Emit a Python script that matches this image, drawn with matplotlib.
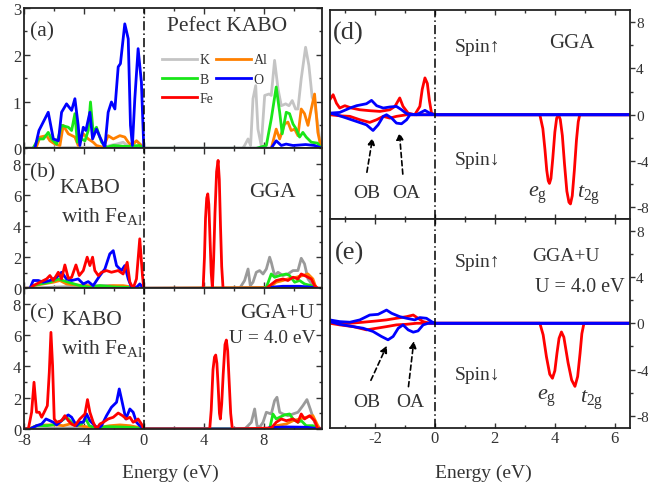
import numpy as np
import matplotlib
matplotlib.use('Agg')
import matplotlib.pyplot as plt
from matplotlib.ticker import MultipleLocator

matplotlib.rcParams.update({'font.family': 'Liberation Serif', 'font.size': 12,
                            'mathtext.fontset': 'custom', 'mathtext.rm': 'Liberation Serif',
                            'mathtext.it': 'Liberation Serif:italic',
                            'axes.unicode_minus': False, 'text.color': '#333333',
                            'xtick.color': '#333333', 'ytick.color': '#333333'})

# ---------------- panel (a): pefect KABO ----------------
a_O_e = [-8, -7.27, -7.0, -6.38, -6.04, -5.7, -5.49, -5.16, -4.82, -4.6, -4.38, -4.27, -4.04, -3.87, -3.6, -3.42,
         -3.16, -2.93, -2.6, -2.38, -2.16, -1.93, -1.71, -1.56, -1.27, -1.04, -0.89, -0.76, -0.6, -0.38, -0.16, 0,
         8.5, 8.84, 9.18, 9.5, 9.96, 10.4, 10.8, 11.4, 11.9]
a_O_d = [0, 0, 0.38, 0.77, 0.2, 0.16, 0.77, 0.95, 0.81, 1.06, 0.49, 0.06, 0.45, 0.38, 0.77, 0.2,
         0.41, 0.24, 0.02, 0.77, 0.99, 0.84, 1.74, 1.81, 2.66, 2.34, 0.49, 0.06, 1.06, 2.13, 1.41, 0,
         0, 0.16, 0.06, 0.09, 0.06, 0.07, 0.08, 0.06, 0]
a_B_e = [-8, -7.4, -7.04, -6.7, -6.38, -6.16, -5.82, -5.49, -5.04, -4.82, -4.6, -4.44, -4.16, -3.93, -3.71, -3.56,
         -3.38, -3.16, -2.82, -2.49, -2.04, -1.2, -0.3, 0,
         7.51, 8.18, 8.51, 8.84, 9.07, 9.24, 9.51, 9.73, 9.96, 10.18, 10.4, 10.62, 10.84, 11.18, 11.6, 11.84, 11.9]
a_B_d = [0, 0, 0.2, 0.2, 0.34, 0.2, 0.09, 0.49, 0.45, 0.38, 0.74, 0.13, 0.2, 0.16, 0.38, 0.99,
         0.34, 0.45, 0.13, 0.02, 0.06, 0.04, 0.06, 0,
         0, 0.06, 0.63, 1.31, 0.77, 0.31, 0.77, 0.74, 0.52, 0.41, 0.24, 0.34, 0.24, 0.13, 0.11, 0, 0]
a_Al_e = [-8, -7.2, -6.93, -6.49, -6.27, -5.93, -5.6, -5.38, -5.04, -4.6, -4.38, -4.04, -3.71, -3.38, -3.16, -2.7,
          -2.38, -2.04, -1.6, -1.27, -1.04, -0.82, -0.49, -0.16, 0,
          8.51, 8.84, 9.07, 9.4, 9.62, 9.84, 10.07, 10.29, 10.51, 10.73, 10.96, 11.18, 11.4, 11.62, 11.84, 11.9]
a_Al_d = [0, 0, 0.24, 0.27, 0.16, 0.09, 0.06, 0.49, 0.31, 0.24, 0.06, 0.31, 0.2, 0.13, 0.06, 0.02,
          0.27, 0.2, 0.27, 0.24, 0.13, 0.06, 0.16, 0.06, 0,
          0, 0.41, 0.2, 0.52, 0.56, 0.38, 0.41, 0.27, 0.84, 0.74, 0.49, 0.84, 1.16, 0.34, 0, 0]
a_K_e = [-8, -7.3, -5.0, -2.6, -2.27, -1.82, -1.38, -0.93, -0.49, -0.16, 0,
         6.6, 6.73, 6.96, 7.13, 7.29, 7.47, 7.62, 7.84, 8.07, 8.36, 8.51, 8.73, 8.96, 9.18, 9.47, 9.69, 9.91,
         10.13, 10.29, 10.51, 10.8, 11.02, 11.24, 11.4, 11.62, 11.84, 11.9]
a_K_d = [0, 0, 0.02, 0.02, 0.06, 0.09, 0.13, 0.02, 0.16, 0.06, 0,
         0, 0.06, 0.2, 0.06, 1.06, 1.34, 0.41, 0.06, 1.13, 1.16, 1.13, 1.88, 1.27, 0.91, 0.95, 0.91, 1.02,
         0.84, 0.84, 1.49, 2.16, 1.77, 1.09, 0.98, 0.49, 0, 0]

# ---------------- panel (b): KABO with Fe_Al, GGA ----------------
b_Fe_e = [-8, -7.55, -7.38, -6.93, -6.49, -6.27, -6.04, -5.71, -5.49, -5.27, -5.04, -4.82, -4.53, -4.31, -4.04,
          -3.78, -3.6, -3.42, -3.27, -3.04, -2.82, -2.49, -2.16, -1.71, -1.38, -1.11, -0.93, -0.71, -0.49, -0.27,
          -0.09, 0,
          3.96, 4.05, 4.12, 4.2, 4.27, 4.34, 4.42, 4.5, 4.58, 4.66, 4.75, 4.86, 4.96, 5.04, 5.12, 5.2, 5.29,
          8.2, 8.4, 8.84, 9.29, 9.62, 9.96, 10.29, 10.51, 10.73, 11.18, 11.4, 11.62, 11.9]
b_Fe_d = [0, 0, 0.17, 0.39, 0.6, 0.82, 0.5, 1.03, 0.6, 1.5, 0.64, 0.7, 1.5, 0.82, 1.14,
          2.0, 1.46, 2.0, 1.14, 0.82, 1.03, 1.14, 1.03, 1.14, 0.92, 1.67, 0.39, 0, 0.6, 3.18,
          0.82, 0,
          0, 2.0, 4.5, 5.8, 6.07, 5.4, 3.2, 1.0, 0, 1.8, 4.8, 7.5, 8.22, 7.0, 4.0, 1.4, 0,
          0, 0.17, 0.5, 0.6, 0.5, 0.71, 0.6, 0.92, 0.82, 0.6, 0.17, 0, 0]
b_O_e = [-8, -7.6, -7.38, -7.04, -6.71, -6.27, -5.82, -5.49, -5.16, -4.82, -4.38, -4.04, -3.71, -3.38, -2.93,
         -2.6, -2.27, -2.04, -1.82, -1.49, -1.27, -1.04, -0.82, -0.49, -0.27, -0.04, 0,
         8.2, 8.4, 9.29, 10.4, 11.29, 11.6, 11.9]
b_O_d = [0, 0, 0.5, 0.5, 0.39, 0.5, 0.71, 1.03, 0.6, 0.5, 0.6, 0.28, 0.43, 0.17, 0.82,
         1.24, 2.21, 2.42, 1.46, 1.14, 1.46, 0.6, 0.06, 0.06, 0.28, 0.02, 0,
         0, 0.06, 0.13, 0.13, 0.06, 0, 0]
b_B_e = [-8, -7.5, -7.38, -6.93, -6.27, -5.71, -5.38, -5.04, -4.27, -3.6, -2.93, -2.04, -0.71, 0,
         7.96, 8.18, 8.51, 8.73, 9.07, 9.51, 9.73, 10.07, 10.4, 10.73, 11.18, 11.51, 11.9]
b_B_d = [0, 0, 0.17, 0.28, 0.39, 0.6, 0.5, 0.39, 0.17, 0.06, 0.17, 0.09, 0.04, 0,
         0, 0.06, 0.92, 0.71, 0.82, 0.92, 0.82, 0.39, 0.5, 0.28, 0.17, 0, 0]
b_Al_e = [-8, -7.5, -7.38, -6.71, -6.04, -5.6, -5.16, -4.49, -3.82, -2.93, -2.04, -1.38, -0.49, 0,
          8.4, 8.84, 9.29, 9.73, 10.18, 10.62, 10.96, 11.29, 11.51, 11.9]
b_Al_d = [0, 0, 0.17, 0.28, 0.39, 0.5, 0.28, 0.21, 0.17, 0.09, 0.17, 0.17, 0.04, 0,
          0.06, 0.39, 0.5, 0.64, 0.71, 0.82, 0.92, 0.6, 0, 0]
b_K_e = [-8, -3.0, -2.27, -1.5, 0,
         6.4, 6.73, 6.96, 7.11, 7.29, 7.51, 7.73, 7.96, 8.18, 8.4, 8.51, 8.73, 8.96, 9.29, 9.62, 9.96, 10.29,
         10.51, 10.73, 10.96, 11.29, 11.51, 11.9]
b_K_d = [0, 0.17, 0.17, 0.09, 0,
         0, 0.5, 1.24, 0.17, 0.39, 1.03, 1.14, 0.92, 1.24, 2.0, 1.67, 0.82, 1.03, 0.82, 0.92, 1.14, 1.14,
         1.93, 1.57, 0.6, 0.17, 0, 0]

# ---------------- panel (c): KABO with Fe_Al, GGA+U ----------------
c_Fe_e = [-8, -7.71, -7.49, -7.33, -7.16, -6.98, -6.82, -6.6, -6.44, -6.31, -6.2, -6.09, -5.98, -5.82, -5.49,
          -5.27, -5.04, -4.82, -4.6, -4.27, -3.93, -3.76, -3.6, -3.38, -3.16, -2.93, -2.71, -2.38, -2.04,
          -1.71, -1.42, -1.16, -0.93, -0.71, -0.53, -0.38, -0.16, 0,
          4.4, 4.5, 4.62, 4.72, 4.8, 4.88, 4.96, 5.05, 5.11, 5.2, 5.3, 5.42, 5.51, 5.6, 5.7, 5.8, 5.91,
          8.51, 8.84, 9.18, 9.51, 9.96, 10.29, 10.51, 10.73, 11.07, 11.4, 11.62, 11.9]
c_Fe_d = [0, 0, 1.07, 2.99, 1.07, 1.07, 0.75, 1.17, 1.49, 3.62, 6.18, 4.05, 0.64, 0.43, 0.53,
          0.85, 0.53, 0.32, 0.21, 0.64, 0.96, 1.88, 1.07, 0.43, 0, 0.32, 0.43, 0.64, 0.75,
          1.02, 0.85, 0.64, 0.75, 0.43, 0.53, 0.64, 0.32, 0,
          0, 1.2, 3.8, 4.6, 4.73, 4.2, 2.8, 1.0, 0.64, 1.6, 3.5, 5.4, 5.69, 5.0, 3.0, 1.0, 0,
          0.06, 0.43, 0.64, 0.53, 0.64, 0.43, 0.96, 0.64, 0.85, 0.53, 0, 0]
c_O_e = [-8, -7.6, -7.16, -6.82, -6.53, -6.27, -6.04, -5.82, -5.6, -5.27, -5.04, -4.82, -4.49, -4.27, -4.04,
         -3.82, -3.6, -3.27, -3.04, -2.82, -2.49, -2.16, -1.82, -1.64, -1.49, -1.2, -0.93, -0.71, -0.49,
         -0.27, 0,
         8.2, 8.4, 9.51, 10.84, 11.51, 11.9]
c_O_d = [0, 0, 0.21, 0.32, 0.64, 0.53, 0.43, 0.26, 0.43, 0.75, 0.9, 0.75, 0.21, 0.43, 0.43,
         0.96, 0.53, 0.21, 0.04, 0.21, 0.85, 1.39, 1.71, 2.56, 1.92, 0.64, 1.28, 1.07, 0.43,
         0.21, 0,
         0, 0.09, 0.13, 0.11, 0.04, 0]
c_B_e = [-8, -7.6, -7.16, -6.49, -6.04, -5.49, -5.16, -4.82, -4.49, -4.16, -3.87, -3.64, -3.16, -2.49,
         -1.6, -0.71, 0,
         8.4, 8.62, 8.84, 9.07, 9.4, 9.73, 9.96, 10.29, 10.51, 10.84, 11.29, 11.62, 11.9]
c_B_d = [0, 0, 0.21, 0.21, 0.26, 0.53, 0.75, 0.43, 0.21, 0.32, 0.64, 0.21, 0.04, 0.15,
         0.13, 0.09, 0,
         0, 0.96, 0.64, 0.75, 0.9, 0.96, 0.64, 0.43, 0.53, 0.21, 0.21, 0, 0]
c_Al_e = [-8, -7.6, -7.16, -6.49, -5.82, -5.38, -4.93, -4.27, -3.6, -2.93, -2.27, -1.6, -0.93, -0.27, 0,
          8.4, 8.84, 9.51, 9.96, 10.4, 10.84, 11.29, 11.62, 11.78, 11.9]
c_Al_d = [0, 0.04, 0.21, 0.26, 0.26, 0.21, 0.32, 0.21, 0.11, 0.11, 0.21, 0.26, 0.21, 0.09, 0,
          0, 0.21, 0.32, 0.53, 0.64, 0.75, 0.85, 0.21, 0, 0]
c_K_e = [-8, -3.0, -2.0, -1.0, 0,
         6.73, 6.96, 7.18, 7.4, 7.56, 7.73, 7.96, 8.18, 8.51, 8.73, 8.89, 9.07, 9.29, 9.62, 9.96, 10.29,
         10.62, 10.89, 11.11, 11.4, 11.62, 11.9]
c_K_d = [0, 0.11, 0.11, 0.06, 0,
         0, 0.21, 0.43, 1.28, 0.21, 0.11, 0.43, 1.07, 0.96, 1.81, 2.03, 1.07, 0.96, 0.85, 0.96, 1.07,
         1.49, 1.88, 1.28, 0.43, 0, 0]

# ---------------- panel (d): Fe/O spin-resolved, GGA ----------------
d_Fe_up_e = [-3.5, -3.39, -3.28, -3.17, -3.0, -2.78, -2.5, -2.17, -1.83, -1.5, -1.33, -1.17, -1.06, -0.89,
             -0.67, -0.5, -0.42, -0.33, -0.25, -0.18, -0.11, 0, 6.5]
d_Fe_up_d = [1.3, 1.73, 1.0, 0.58, 0.78, 0.58, 0.43, 0.35, 0.29, 0.43, 0.72, 1.45, 0.72, 0.14,
             0, 0.72, 2.2, 3.18, 2.7, 1.2, 0.14, 0, 0]
d_Fe_dn_e = [-3.5, -3.17, -2.83, -2.5, -2.17, -1.94, -1.72, -1.5, -1.28, -0.94, 0,
             3.5, 3.6, 3.67, 3.73, 3.78, 3.82, 3.87, 3.93, 4.0, 4.06, 4.12, 4.18, 4.25, 4.32, 4.4, 4.47,
             4.52, 4.58, 4.65, 4.72, 4.78, 4.83, 6.5]
d_Fe_dn_d = [0, -0.09, -0.14, -0.43, -0.66, -0.43, -0.14, -0.29, -0.14, 0, 0,
             0, -1.2, -3.0, -4.8, -5.7, -5.93, -5.5, -3.8, -1.5, -0.3, 0, -0.4, -1.8, -4.2, -6.6, -7.55,
             -7.7, -7.0, -4.8, -2.2, -0.6, 0, 0]
d_O_up_e = [-3.5, -3.17, -2.83, -2.61, -2.28, -2.11, -1.94, -1.72, -1.5, -1.28, -1.11, -0.94, -0.61,
            -0.33, -0.17, 0, 6.5]
d_O_up_d = [0.14, 0.2, 0.58, 0.78, 0.95, 1.24, 0.78, 0.58, 0.67, 0.72, 0.43, 0.09, 0,
            0.38, 0.14, 0, 0]
d_O_dn_e = [-3.5, -3.28, -2.94, -2.61, -2.28, -2.06, -1.89, -1.72, -1.61, -1.44, -1.28, -1.11, -0.94,
            -0.83, 0, 6.5]
d_O_dn_d = [0.14, 0, -0.29, -0.58, -0.87, -1.36, -0.87, -0.14, 0, -0.29, -0.72, -0.78, -0.43,
            0, 0, 0]

# ---------------- panel (e): Fe/O spin-resolved, GGA+U ----------------
e_Fe_up_e = [-3.5, -3.17, -2.83, -2.39, -1.94, -1.61, -1.28, -0.94, -0.72, -0.56, -0.39, -0.17, 0, 6.5]
e_Fe_up_d = [0.14, 0, 0, 0.09, 0.2, 0.29, 0.43, 0.57, 0.71, 0.43, 0.14, 0, 0, 0]
e_Fe_dn_e = [-3.5, -3.17, -2.72, -2.28, -1.94, -1.61, -1.28, -0.94, -0.61, 0,
             3.5, 3.61, 3.72, 3.83, 3.92, 4.0, 4.07, 4.14, 4.22, 4.3, 4.37, 4.44, 4.56, 4.67, 4.76, 4.84,
             4.9, 4.97, 6.5]
e_Fe_dn_d = [0, -0.14, -0.29, -0.57, -0.43, -0.29, -0.14, -0.09, 0, 0,
             0, -1.0, -2.9, -4.4, -4.75, -4.1, -2.6, -1.3, -0.75, -1.2, -2.3, -3.4, -4.9, -5.45, -4.6, -2.6,
             -0.9, 0, 0]
e_O_up_e = [-3.5, -3.17, -2.83, -2.5, -2.17, -1.89, -1.61, -1.44, -1.17, -0.94, -0.67, -0.5, -0.28,
            -0.11, 0, 6.5]
e_O_up_d = [0.29, 0.14, 0.09, 0.29, 0.71, 0.77, 1.14, 0.86, 0.57, 0.43, 0.29, 0.49, 0.43,
            0.14, 0, 0]
e_O_dn_e = [-3.5, -3.17, -2.72, -2.39, -2.06, -1.78, -1.56, -1.39, -1.22, -1.06, -0.89, -0.72, -0.56,
            -0.39, -0.22, 6.5]
e_O_dn_d = [0.14, -0.09, -0.29, -0.43, -0.71, -1.14, -1.43, -1.14, -0.43, -0.14, -0.57, -0.77, -0.66,
            -0.14, 0, 0]

col = {'K': '#9a9a9a', 'Al': '#ff8000', 'B': '#19e619', 'O': '#0000ff', 'Fe': '#ff0000'}
lw = 2.0

fig = plt.figure(figsize=(6.48, 4.89), dpi=100)
axa = fig.add_axes([0.037, 0.6947, 0.460, 0.287])
axb = fig.add_axes([0.037, 0.4084, 0.460, 0.2863])
axc = fig.add_axes([0.037, 0.1207, 0.460, 0.2877])
axd = fig.add_axes([0.509, 0.5501, 0.463, 0.4264])
axe = fig.add_axes([0.509, 0.1237, 0.463, 0.4264])

# left column
ha = {}
ha['K'], = axa.plot(a_K_e, a_K_d, color='#c4c4c4', lw=lw)
ha['Al'], = axa.plot(a_Al_e, a_Al_d, color=col['Al'], lw=lw)
ha['B'], = axa.plot(a_B_e, a_B_d, color=col['B'], lw=lw)
ha['O'], = axa.plot(a_O_e, a_O_d, color=col['O'], lw=lw)
ha['Fe'], = axa.plot([], [], color=col['Fe'], lw=lw)
axa.plot([-8, 11.9], [0, 0], color='#1a1a8c', lw=lw, zorder=1)
axb.plot(b_K_e, b_K_d, color=col['K'], lw=lw)
axb.plot(b_Al_e, b_Al_d, color=col['Al'], lw=lw)
axb.plot(b_B_e, b_B_d, color=col['B'], lw=lw)
axb.plot(b_O_e, b_O_d, color=col['O'], lw=lw)
axb.plot(b_Fe_e, b_Fe_d, color=col['Fe'], lw=lw)
axc.plot(c_K_e, c_K_d, color=col['K'], lw=lw)
axc.plot(c_Al_e, c_Al_d, color=col['Al'], lw=lw)
axc.plot(c_B_e, c_B_d, color=col['B'], lw=lw)
axc.plot(c_O_e, c_O_d, color=col['O'], lw=lw)
axc.plot(c_Fe_e, c_Fe_d, color=col['Fe'], lw=lw)

for ax, top in zip([axa, axb, axc], [3, 9, 9]):
    ax.set_xlim(-8, 11.9)
    ax.set_ylim(0, top)
    ax.axvline(0, color='k', lw=1.1, ls=(0, (6, 2, 1, 2)))
    ax.xaxis.set_major_locator(MultipleLocator(4))
    ax.xaxis.set_minor_locator(MultipleLocator(2))
    ax.yaxis.set_major_locator(MultipleLocator(1 if top == 3 else 2))
    ax.yaxis.set_minor_locator(MultipleLocator(0.5 if top == 3 else 1))
    ax.tick_params(which='both', direction='in', top=True, right=True, width=1, labelsize=12, pad=2)
    ax.tick_params(which='major', length=4)
    ax.tick_params(which='minor', length=2.5)
    for s in ax.spines.values():
        s.set_linewidth(1.3)
        s.set_color('#222222')
axa.tick_params(labelbottom=False)
axb.tick_params(labelbottom=False)

# right column
for ax, fe_up, fe_dn, o_up, o_dn in [
        (axd, (d_Fe_up_e, d_Fe_up_d), (d_Fe_dn_e, d_Fe_dn_d), (d_O_up_e, d_O_up_d), (d_O_dn_e, d_O_dn_d)),
        (axe, (e_Fe_up_e, e_Fe_up_d), (e_Fe_dn_e, e_Fe_dn_d), (e_O_up_e, e_O_up_d), (e_O_dn_e, e_O_dn_d))]:
    ax.plot(*fe_up, color=col['Fe'], lw=lw)
    ax.plot(*fe_dn, color=col['Fe'], lw=lw)
    ax.plot(*o_up, color=col['O'], lw=lw)
    ax.plot(*o_dn, color=col['O'], lw=lw)
    ax.set_xlim(-3.5, 6.5)
    ax.set_ylim(-9, 9)
    ax.axvline(0, color='k', lw=1.1, ls=(0, (6, 2, 1, 2)))
    ax.xaxis.set_major_locator(MultipleLocator(2))
    ax.xaxis.set_minor_locator(MultipleLocator(1))
    ax.yaxis.set_major_locator(MultipleLocator(4))
    ax.yaxis.set_minor_locator(MultipleLocator(2))
    ax.yaxis.tick_right()
    ax.tick_params(which='both', direction='in', top=True, bottom=True, width=1, labelsize=12, pad=2)
    ax.tick_params(axis='y', which='both', direction='out', left=False, right=True, labelsize=11, pad=1)
    ax.tick_params(which='major', length=3.5)
    ax.tick_params(which='minor', length=2.5)
    for s in ax.spines.values():
        s.set_linewidth(1.3)
        s.set_color('#222222')
axd.tick_params(labelbottom=False)

# texts
fs = 15.5
axa.text(-7.6, 2.52, '(a)', fontsize=fs, va='center')
axa.text(5.56, 2.63, 'Pefect KABO', fontsize=fs, ha='center', va='center')
axa.legend([ha['K'], ha['B'], ha['Fe'], ha['Al'], ha['O']], ['K', 'B', 'Fe', 'Al', 'O'], ncol=2,
           loc='upper left', bbox_to_anchor=(0.44, 0.725), frameon=False, fontsize=10,
           handlelength=2.5, handletextpad=0.2, columnspacing=0.2, labelspacing=0.45, borderpad=0)
axb.text(-7.6, 7.47, '(b)', fontsize=fs, va='center')
axb.text(-5.6, 6.5, 'KABO', fontsize=fs, va='center')
axb.text(-5.5, 4.7, r'with Fe$_{\mathrm{Al}}$', fontsize=fs, va='center')
axb.text(8.56, 6.2, 'GGA', fontsize=fs, ha='center', va='center')
axc.text(-7.6, 7.46, '(c)', fontsize=fs, va='center')
axc.text(-5.5, 7.0, 'KABO', fontsize=fs, va='center')
axc.text(-5.5, 5.2, r'with Fe$_{\mathrm{Al}}$', fontsize=fs, va='center')
axc.text(11.4, 7.46, 'GGA+U', fontsize=fs, ha='right', va='center')
axc.text(11.5, 5.86, 'U = 4.0 eV', fontsize=14, ha='right', va='center')

axd.text(-3.39, 7.1, '(d)', fontsize=19, va='center')
axd.text(0.67, 5.9, 'Spin\u2191', fontsize=14, va='center')
axd.text(0.67, -3.9, 'Spin\u2193', fontsize=14, va='center')
axd.text(4.58, 6.2, 'GGA', fontsize=15, ha='center', va='center')
axe.text(-3.33, 6.14, '(e)', fontsize=19, va='center')
axe.text(0.67, 5.3, 'Spin\u2191', fontsize=14, va='center')
axe.text(0.67, -4.4, 'Spin\u2193', fontsize=14, va='center')
axe.text(4.36, 5.86, 'GGA+U', fontsize=14, ha='center', va='center')
axe.text(4.83, 3.14, 'U = 4.0 eV', fontsize=14.5, ha='center', va='center')

arrow = dict(arrowstyle='-|>', ls=(0, (3, 2)), color='k', lw=1.2, mutation_scale=10)
for ax, ob, oa, tob, toa in [(axd, ((-2.06, -1.74), (-2.28, -5.2)), ((-1.19, -1.3), (-1.06, -5.36)), -2.28, -0.94),
                             (axe, ((-1.56, -1.71), (-2.17, -5.14)), ((-0.69, -1.29), (-0.89, -5.71)), -2.28, -0.83)]:
    ax.annotate('', xy=ob[0], xytext=ob[1], arrowprops=arrow)
    ax.annotate('', xy=oa[0], xytext=oa[1], arrowprops=arrow)
    ax.text(tob, -6.75, 'OB', fontsize=14, ha='center', va='center')
    ax.text(toa, -6.75, 'OA', fontsize=14, ha='center', va='center')
axd.text(3.1, -6.9, r'$e_{\mathrm{g}}$', fontsize=16, va='center')
axd.text(4.75, -6.9, r'$t_{\mathrm{2g}}$', fontsize=16, va='center')
axe.text(3.4, -6.4, r'$e_{\mathrm{g}}$', fontsize=16, va='center')
axe.text(4.85, -6.6, r'$t_{\mathrm{2g}}$', fontsize=16, va='center')

fig.text(170 / 648, 1 - 473 / 489, 'Energy (eV)', fontsize=14, ha='center', va='center')
fig.text(483 / 648, 1 - 473 / 489, 'Energy (eV)', fontsize=14, ha='center', va='center')

plt.savefig('out.png', dpi=100)
